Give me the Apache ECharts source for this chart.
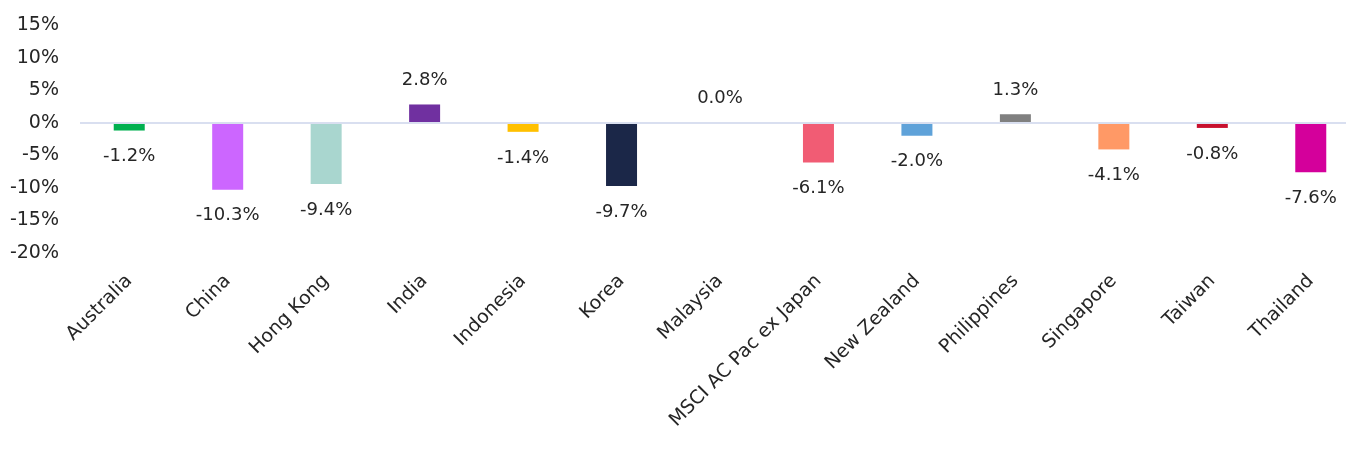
<!DOCTYPE html>
<html lang="en">
<head>
    <meta charset="UTF-8">
    <script src="https://cdn.jsdelivr.net/npm/echarts@6/dist/echarts.min.js"></script>
    <title>Returns by market</title>
    <style>
        html, body { margin: 0; padding: 0; background: #fff; }
        #main { width: 1346px; height: 453px; }
    </style>
</head>
<body>
    <div id="main"></div>
    <script type="text/javascript">
        // categories and values (%)
        var markets = ['Australia', 'China', 'Hong Kong', 'India', 'Indonesia', 'Korea', 'Malaysia',
            'MSCI AC Pac ex Japan', 'New Zealand', 'Philippines', 'Singapore', 'Taiwan', 'Thailand'];
        var returns = [-1.2, -10.3, -9.4, 2.8, -1.4, -9.7, 0.0, -6.1, -2.0, 1.3, -4.1, -0.8, -7.6];
        var yTicks = [-20, 15, 5]; // min, max, interval

        var barColors = ['#00b050', '#cc66ff', '#a9d6cf', '#7030a0', '#ffc000', '#1b2748', '#999999',
            '#f15c74', '#5fa2d9', '#808080', '#ff9966', '#c8102e', '#d4009b'];

        var textColor = '#262626';
        var font = 'DejaVu Sans';

        var myChart = echarts.init(document.getElementById('main'));

        var seriesData = returns.map(function (v, i) {
            return {
                value: v,
                itemStyle: { color: barColors[i] },
                label: { position: v >= 0 ? 'top' : 'bottom', distance: v >= 0 ? 15 : 17 }
            };
        });

        var option = {
            animation: false,
            // plot area runs a little past the right edge, like the source
            grid: { left: 80, width: 1280, top: 25, bottom: 200, outerBoundsMode: 'none' },
            xAxis: {
                type: 'category',
                data: markets,
                axisLine: { show: false, onZero: false },
                axisTick: { show: false },
                axisLabel: {
                    rotate: 45,
                    margin: 25,
                    interval: 0,
                    color: textColor,
                    fontFamily: font,
                    fontSize: 19
                }
            },
            yAxis: {
                type: 'value',
                min: yTicks[0],
                max: yTicks[1],
                interval: yTicks[2],
                axisLine: { show: false },
                axisTick: { show: false },
                splitLine: { show: false },
                axisLabel: {
                    margin: 21,
                    color: textColor,
                    fontFamily: font,
                    fontSize: 19,
                    formatter: '{value}%'
                }
            },
            series: [{
                type: 'bar',
                barWidth: 31,
                data: seriesData,
                label: {
                    show: true,
                    color: textColor,
                    fontFamily: font,
                    fontSize: 18,
                    formatter: function (p) { return p.value.toFixed(1) + '%'; }
                },
                markLine: {
                    silent: true,
                    symbol: 'none',
                    label: { show: false },
                    lineStyle: { color: '#d9dff0', width: 2, type: 'solid' },
                    data: [{ yAxis: 0 }],
                    z: 5
                }
            }]
        };
        myChart.setOption(option);
    </script>
</body>
</html>
